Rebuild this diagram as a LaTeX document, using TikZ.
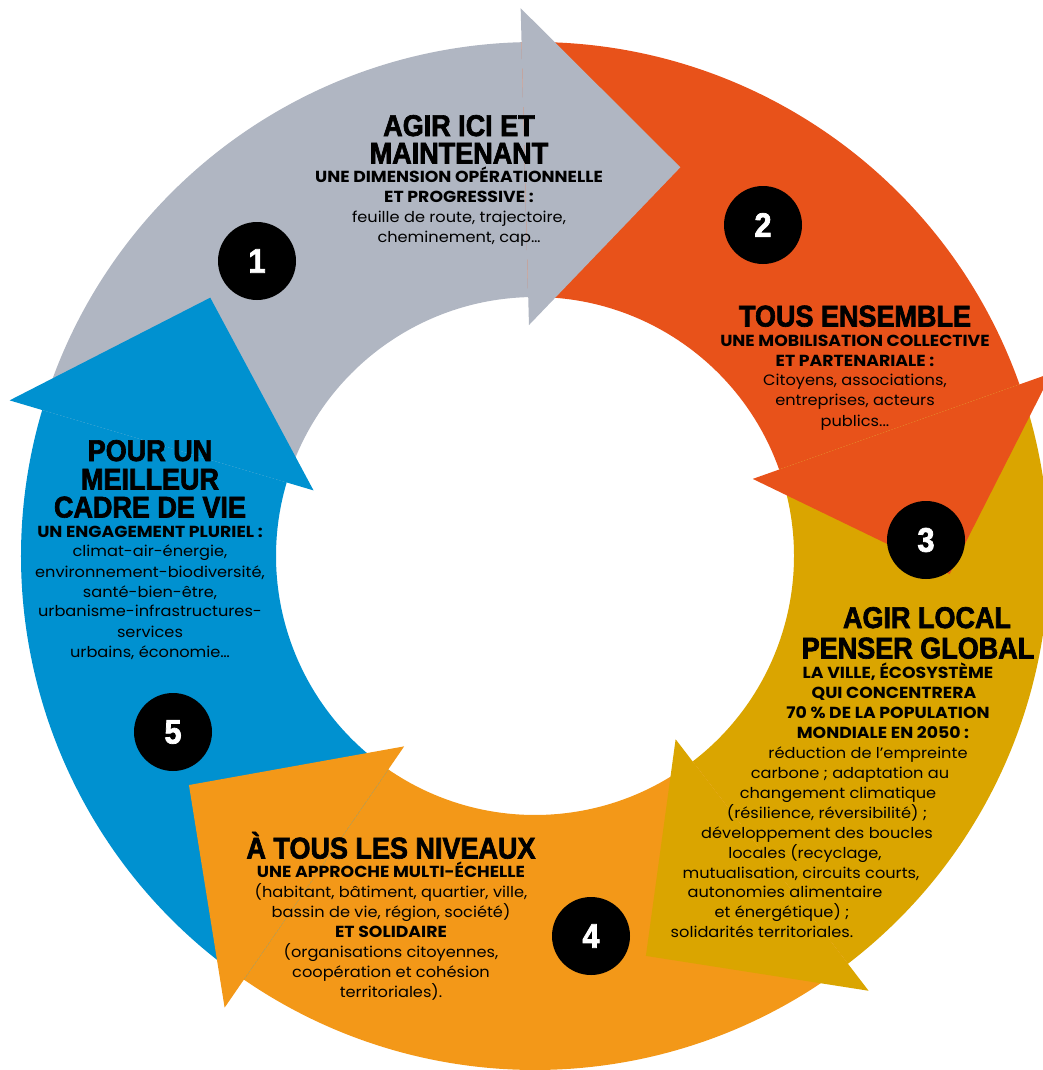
\documentclass[tikz,border=0pt]{standalone}
\usepackage{fontspec}
\setmainfont{Poppins}[FakeStretch=1.08]
\newfontfamily\headfont{Liberation Sans}[FakeStretch=0.9,FakeBold=2.2]

\definecolor{cgray}{RGB}{176,182,194}
\definecolor{cred}{RGB}{232,82,26}
\definecolor{cgold}{RGB}{218,165,0}
\definecolor{corange}{RGB}{243,152,24}
\definecolor{cblue}{RGB}{0,145,208}

% one ring segment: colour, angle of the back of its head
\newcommand{\ringbody}[2]{%
  \fill[#1] (#2+72:514) arc[start angle=#2+72,end angle=#2,radius=514]
    -- (#2:259) arc[start angle=#2,end angle=#2+72,radius=259] -- cycle;}
\newcommand{\ringhead}[2]{%
  \fill[#1] (#2:548) -- (#2-22:415) -- (#2:231) -- cycle;}

\begin{document}
\begin{tikzpicture}[x=1pt,y=-1pt,
    ttl/.style={anchor=base,inner sep=0pt,font=\headfont\bfseries\fontsize{30}{30}\selectfont},
    sub/.style={anchor=base,inner sep=0pt,font=\bfseries\fontsize{16}{16}\selectfont},
    txt/.style={anchor=base,inner sep=0pt,font=\fontsize{15}{15}\selectfont},
    numdot/.style={circle,fill=black,minimum size=78pt,inner sep=0pt,text=white,
      font=\headfont\bfseries\fontsize{34}{34}\selectfont}]
  \useasboundingbox (0,0) rectangle (1043,1070);
  \begin{scope}[shift={(535,556)},yscale=-1]
    \ringbody{cgray}{91.5}
    \ringbody{cred}{19.5}
    \ringbody{cgold}{-52.5}
    \ringbody{corange}{-124.5}
    \ringbody{cblue}{-196.5}
    \ringhead{cgray}{91.5}
    \ringhead{cred}{19.5}
    \ringhead{cgold}{-52.5}
    \ringhead{corange}{-124.5}
    \ringhead{cblue}{-196.5}
  \end{scope}

  % numbers
  \node[numdot] (n1) at (257,261) {1};
  \node[numdot] (n2) at (763,225) {2};
  \node[numdot] (n3) at (926,540) {3};
  \node[numdot] (n4) at (591,936) {4};
  \node[numdot] (n5) at (173,732) {5};

  % 1 - agir ici et maintenant
  \node[ttl] (a1) at (459,136) {AGIR ICI ET};
  \node[ttl] (a2) at (459,163.5) {MAINTENANT};
  \node[sub] (a3) at (459,182) {UNE DIMENSION OPÉRATIONNELLE};
  \node[sub] (a4) at (459,202) {ET PROGRESSIVE :};
  \node[txt] (a5) at (459,222) {feuille de route, trajectoire,};
  \node[txt] (a6) at (459,242) {cheminement, cap…};

  % 2 - tous ensemble
  \node[ttl] (b1) at (855,326.5) {TOUS ENSEMBLE};
  \node[sub] (b2) at (855,346) {UNE MOBILISATION COLLECTIVE};
  \node[sub] (b3) at (855,366) {ET PARTENARIALE :};
  \node[txt] (b4) at (855,385.5) {Citoyens, associations,};
  \node[txt] (b5) at (855,405.5) {entreprises, acteurs};
  \node[txt] (b6) at (855,426) {publics...};

  % 3 - agir local
  \node[ttl] (c1) at (927,628) {AGIR LOCAL};
  \node[ttl] (c2) at (918,658.5) {PENSER GLOBAL};
  \node[sub] (c3) at (898,678) {LA VILLE, ÉCOSYSTÈME};
  \node[sub] (c4) at (894,698.5) {QUI CONCENTRERA};
  \node[sub] (c5) at (888,718.5) {70 \% DE LA POPULATION};
  \node[sub] (c6) at (883,738) {MONDIALE EN 2050 :};
  \node[txt] (c7) at (868,758) {réduction de l’empreinte};
  \node[txt] (c8) at (850,778) {carbone ; adaptation au};
  \node[txt] (c9) at (838,798) {changement climatique};
  \node[txt] (c10) at (827,818.5) {(résilience, réversibilité) ;};
  \node[txt] (c11) at (817,838) {développement des boucles};
  \node[txt] (c12) at (805,858) {locales (recyclage,};
  \node[txt] (c13) at (801,878) {mutualisation, circuits courts,};
  \node[txt] (c14) at (785,897.5) {autonomies alimentaire};
  \node[txt] (c15) at (782,917.5) {et énergétique) ;};
  \node[txt] (c16) at (762,937) {solidarités territoriales.};

  % 4 - a tous les niveaux
  \node[ttl] (d1) at (391,858.5) {À TOUS LES NIVEAUX};
  \node[sub] (d2) at (391,877.5) {UNE APPROCHE MULTI-ÉCHELLE};
  \node[txt] (d3) at (391,897) {(habitant, bâtiment, quartier, ville,};
  \node[txt] (d4) at (391,917) {bassin de vie, région, société)};
  \node[sub] (d5) at (391,937.5) {ET SOLIDAIRE};
  \node[txt] (d6) at (391,957) {(organisations citoyennes,};
  \node[txt] (d7) at (391,977) {coopération et cohésion};
  \node[txt] (d8) at (391,997) {territoriales).};

  % 5 - cadre de vie
  \node[ttl] (e1) at (150,461) {POUR UN};
  \node[ttl] (e2) at (150,489.5) {MEILLEUR};
  \node[ttl] (e3) at (150,517.5) {CADRE DE VIE};
  \node[sub] (e4) at (150,537) {UN ENGAGEMENT PLURIEL :};
  \node[txt] (e5) at (150,556.5) {climat-air-énergie,};
  \node[txt] (e6) at (150,577) {environnement-biodiversité,};
  \node[txt] (e7) at (150,597) {santé-bien-être,};
  \node[txt] (e8) at (150,616.5) {urbanisme-infrastructures-};
  \node[txt] (e9) at (150,637) {services};
  \node[txt] (e10) at (150,657) {urbains, économie…};
\end{tikzpicture}
\end{document}
